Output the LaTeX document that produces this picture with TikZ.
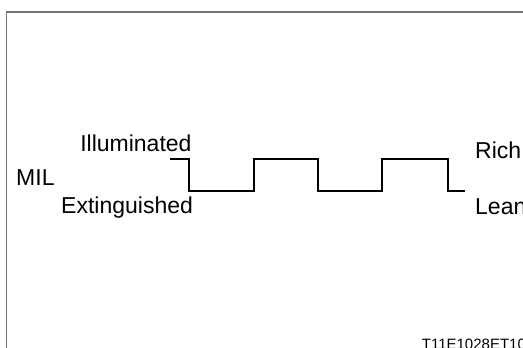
\documentclass[tikz,border=0pt]{standalone}
\usepackage{fontspec}
\setmainfont{Liberation Sans}
\begin{document}
\begin{tikzpicture}[x=1pt,y=-1pt,
  lbl/.style={inner sep=0pt,font=\fontsize{23}{26}\selectfont},
  small/.style={inner sep=0pt,font=\fontsize{15}{17}\selectfont},
  wave/.style={line width=1.9pt,black,line join=miter},
  frame/.style={draw=black!55,line width=1.3pt}]
\useasboundingbox (0,0) rectangle (523,348);
\clip (0,0) rectangle (523,348);
\fill[white] (0,0) rectangle (523,348);
\draw[frame] (6.5,600) -- (6.5,12) -- (700,12);
\node[lbl,anchor=base east] (ill) at (191.7,151.7) {Illuminated};
\node[lbl,anchor=base west] (mil) at (16,185) {MIL};
\node[lbl,anchor=base west] (ext) at (61,213) {Extinguished};
\node[lbl,anchor=base west] (rich) at (475,158.5) {Rich};
\node[lbl,anchor=base west] (lean) at (475,214.5) {Lean};
\node[small,anchor=base west] (code) at (421.7,349) {T11E1028ET10};
\coordinate (s) at (170,159.3);
\coordinate (e) at (465,191.3);
\draw[wave] (s) -- (189.3,159.3) -- (189.3,191.3) -- (254,191.3) -- (254,159.3)
  -- (318.3,159.3) -- (318.3,191.3) -- (382.3,191.3) -- (382.3,159.3)
  -- (447.7,159.3) -- (447.7,191.3) -- (e);
\end{tikzpicture}
\end{document}
